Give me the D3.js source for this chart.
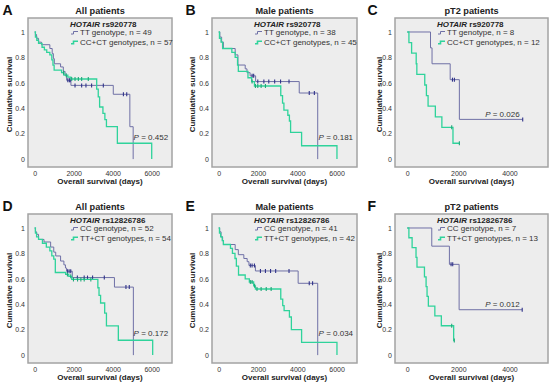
<!DOCTYPE html>
<html><head><meta charset="utf-8">
<script src="https://cdn.jsdelivr.net/npm/d3@7"></script>
<style>body{margin:0;background:#fff}svg{display:block}</style>
</head><body><svg id="c" width="550" height="385"></svg>
<script>
// ---------------- DATA ----------------
const panelLetters = ["A", "B", "C", "D", "E", "F"];
const panelTitles = ["All patients", "Male patients", "pT2 patients", "All patients", "Male patients", "pT2 patients"];
const snpNames = ["rs920778", "rs920778", "rs920778", "rs12826786", "rs12826786", "rs12826786"];
const refLabels = ["TT genotype, n = 49", "TT genotype, n = 38", "TT genotype, n = 8",
                   "CC genotype, n = 52", "CC genotype, n = 41", "CC genotype, n = 7"];
const altLabels = ["CC+CT genotypes, n = 57", "CC+CT genotypes, n = 45", "CC+CT genotypes, n = 12",
                   "TT+CT genotypes, n = 54", "TT+CT genotypes, n = 42", "TT+CT genotypes, n = 13"];
const pValues = ["0.452", "0.181", "0.026", "0.172", "0.034", "0.012"];
const xTicksLong = [0, 2000, 4000, 6000];
const xTicksShort = [0, 2000, 4000];
const yTicks = [0, 0.2, 0.4, 0.6, 0.8, 1];

// Kaplan-Meier steps [days, survival] and censor times (days)
const stepsA_ref = [[0,1],[40,0.98],[100,0.95],[200,0.92],[350,0.90],[780,0.87],[900,0.83],[960,0.79],[1010,0.75],[1330,0.725],[1470,0.69],[1560,0.66],[1640,0.62],[1860,0.58],[4030,0.51],[4880,0.255],[5050,0]];
const censorA_ref = [1700,1780,1820,2070,2410,2630,2920,3520,4550,4720];
const stepsA_alt = [[0,1],[40,0.96],[110,0.935],[200,0.91],[380,0.88],[500,0.86],[620,0.84],[780,0.82],[880,0.78],[940,0.74],[1000,0.70],[1380,0.68],[1500,0.66],[1700,0.645],[1860,0.63],[3180,0.55],[3260,0.49],[3330,0.41],[3500,0.36],[3600,0.31],[3680,0.255],[4240,0.125],[6000,0]];
const censorA_alt = [1480,1620,1900,2070,2240,2410,2750];

const stepsB_ref = [[0,1],[60,0.96],[150,0.92],[240,0.87],[840,0.82],[980,0.74],[1350,0.71],[1440,0.68],[1600,0.655],[1880,0.61],[4100,0.52],[5040,0]];
const censorB_ref = [1700,1780,1990,2300,2550,2850,3150,3580,4610,4870];
const stepsB_alt = [[0,1],[40,0.95],[120,0.92],[200,0.87],[670,0.84],[840,0.80],[960,0.74],[1000,0.69],[1490,0.64],[1680,0.61],[1820,0.575],[3160,0.50],[3250,0.44],[3320,0.385],[3520,0.345],[3600,0.30],[3660,0.21],[4220,0.105],[6020,0]];
const censorB_alt = [1700,1870,1990,2160,2380];

const stepsC_ref = [[0,1],[910,0.875],[970,0.75],[1680,0.625],[2040,0.3125]];
const censorC_ref = [1770,1845,4520];
const stepsC_alt = [[0,1],[65,0.917],[170,0.833],[350,0.75],[375,0.667],[685,0.583],[750,0.5],[815,0.417],[1100,0.333],[1355,0.25],[1790,0.125]];
const censorC_alt = [1740,2040];

const stepsD_ref = [[0,1],[40,0.97],[100,0.95],[200,0.91],[480,0.89],[820,0.85],[980,0.81],[1080,0.78],[1330,0.74],[1500,0.71],[1580,0.685],[1640,0.66],[1930,0.61],[4090,0.535],[5060,0]];
const censorD_ref = [1680,1765,1850,2190,2540,2710,2970,3570,4680,4850];
const stepsD_alt = [[0,1],[40,0.96],[100,0.93],[200,0.91],[400,0.88],[600,0.85],[780,0.82],[880,0.78],[980,0.755],[1060,0.65],[1590,0.635],[1750,0.62],[1900,0.595],[3240,0.53],[3300,0.47],[3380,0.41],[3590,0.33],[3680,0.23],[4290,0.117],[6050,0]];
const censorD_alt = [1680,1850,1990,2200,2370,2540,2880];

const stepsE_ref = [[0,1],[50,0.97],[120,0.93],[200,0.90],[240,0.87],[840,0.83],[1000,0.79],[1280,0.76],[1450,0.735],[1540,0.705],[1870,0.662],[4045,0.565],[5040,0]];
const censorE_ref = [1610,1700,1820,2125,2380,2640,2900,3580,4610,4780];
const stepsE_alt = [[0,1],[40,0.96],[100,0.93],[180,0.90],[240,0.87],[600,0.84],[700,0.80],[830,0.76],[900,0.70],[1010,0.63],[1350,0.60],[1560,0.575],[1780,0.545],[1870,0.52],[3160,0.44],[3260,0.39],[3330,0.35],[3600,0.30],[3700,0.20],[4220,0.10],[6020,0]];
const censorE_alt = [1610,1700,1830,1950,2160,2420,2670];

const stepsF_ref = [[0,1],[960,0.857],[1650,0.714],[2030,0.357]];
const censorF_ref = [1715,1780,4500];
const stepsF_alt = [[0,1],[64,0.923],[190,0.846],[343,0.769],[381,0.692],[673,0.615],[737,0.538],[775,0.462],[826,0.385],[1080,0.308],[1334,0.231],[1816,0.115]];
const censorF_alt = [1740,1842];

const panelCurves = [
  [stepsA_ref, censorA_ref, stepsA_alt, censorA_alt],
  [stepsB_ref, censorB_ref, stepsB_alt, censorB_alt],
  [stepsC_ref, censorC_ref, stepsC_alt, censorC_alt],
  [stepsD_ref, censorD_ref, stepsD_alt, censorD_alt],
  [stepsE_ref, censorE_ref, stepsE_alt, censorE_alt],
  [stepsF_ref, censorF_ref, stepsF_alt, censorF_alt]
];
// P-value annotation anchor [days, survival]
const pAnchors = [[6840,0.15],[6840,0.15],[4400,0.332],[6840,0.15],[6840,0.15],[4400,0.382]];

// ---------------- LAYOUT ----------------
const colLeft = [0, 183, 365];
const frameL = [28, 212, 395];
const frameR = [172, 357, 548];
const frameT = [18, 214];
const frameB = [167, 363];
const yTitleOff = [-19, -20, -16];
const C_REF = "#6f70a6", C_REF_MARK = "#30338a";
const C_ALT = "#2fd39b", C_ALT_MARK = "#1ea878";
const FONT = "'Liberation Sans', Arial, Helvetica, sans-serif";

const svg = d3.select("#c").style("font-family", FONT);

function stepAt(steps, t) {
  let s = steps[0][1];
  for (const p of steps) { if (p[0] <= t) s = p[1]; }
  return s;
}

panelLetters.forEach((letter, i) => {
  const col = i % 3, row = Math.floor(i / 3);
  const shortAxis = col === 2;
  const x = d3.scaleLinear().domain(shortAxis ? [-480, 5510] : [-340, 7040]).range([frameL[col], frameR[col]]);
  const y = d3.scaleLinear().domain([-0.062, 1.11]).range([frameB[row], frameT[row]]);
  const g = svg.append("g");
  const L = frameL[col], R = frameR[col], T = frameT[row], B = frameB[row];

  g.append("rect").attr("x", L).attr("y", T).attr("width", R - L).attr("height", B - T)
    .attr("fill", "#ededed").attr("stroke", "#a3a3a3").attr("stroke-width", 1.5);

  // panel letter & title
  g.append("text").attr("x", colLeft[col] + 2.5).attr("y", T - 3.5).text(letter)
    .attr("font-size", 14).attr("font-weight", "bold").attr("fill", "#111");
  g.append("text").attr("x", (L + R) / 2).attr("y", T - 4.5).attr("text-anchor", "middle")
    .text(panelTitles[i]).attr("font-size", 9.2).attr("font-weight", "bold").attr("fill", "#222");

  // axes
  const xAxis = d3.axisBottom(x).tickValues(shortAxis ? xTicksShort : xTicksLong).tickSize(0).tickPadding(0).tickFormat(d3.format("d"));
  const gx = g.append("g").attr("transform", `translate(0,${B + 7})`).call(xAxis);
  gx.select(".domain").remove();
  gx.selectAll("text").attr("font-size", 7).attr("fill", "#333").attr("font-family", FONT).attr("dy", "0.3em");
  const yAxis = d3.axisLeft(y).tickValues(yTicks).tickSize(0).tickPadding(0).tickFormat(d => d === 0 || d === 1 ? String(d) : d.toFixed(1));
  const gy = g.append("g").attr("transform", `translate(${L - 3},0)`).call(yAxis);
  gy.select(".domain").remove();
  gy.selectAll("text").attr("font-size", 7).attr("fill", "#333").attr("font-family", FONT);

  g.append("text").attr("x", (L + R) / 2).attr("y", B + 17).attr("text-anchor", "middle")
    .text("Overall survival (days)").attr("font-size", 8).attr("font-weight", "bold").attr("fill", "#222");
  g.append("text").attr("transform", `translate(${L + yTitleOff[col]},${(T + B) / 2 + 2}) rotate(-90)`)
    .attr("text-anchor", "middle").attr("dy", "0.35em")
    .text("Cumulative survival").attr("font-size", 8).attr("font-weight", "bold").attr("fill", "#222");

  // curves
  const [sRef, cRef, sAlt, cAlt] = panelCurves[i];
  const line = d3.line().x(d => x(d[0])).y(d => y(d[1])).curve(d3.curveStepAfter);
  function drawCurve(steps, censors, color, markColor, width) {
    const pts = steps.slice();
    const lastT = d3.max(censors.concat([steps[steps.length - 1][0]]));
    const last = pts[pts.length - 1];
    if (lastT > last[0]) pts.push([lastT, last[1]]);
    g.append("path").attr("d", line(pts)).attr("fill", "none").attr("stroke", color)
      .attr("stroke-width", width);
    censors.forEach(t => {
      const cx = x(t), cy = y(stepAt(steps, t));
      g.append("line").attr("x1", cx).attr("x2", cx).attr("y1", cy - 2).attr("y2", cy + 2)
        .attr("stroke", markColor).attr("stroke-width", 1.1);
    });
  }
  drawCurve(sRef, cRef, C_REF, C_REF_MARK, 1);
  drawCurve(sAlt, cAlt, C_ALT, C_ALT_MARK, 1.3);

  // legend
  const lx = L + 42;
  const lt = g.append("text").attr("x", lx).attr("y", T + 8.5).attr("font-size", 8).attr("font-weight", "bold").attr("fill", "#222");
  lt.append("tspan").attr("font-style", "italic").text("HOTAIR");
  lt.append("tspan").text(" " + snpNames[i]);
  [[refLabels[i], C_REF, 1], [altLabels[i], C_ALT, 1.6]].forEach((it, k) => {
    const yy = T + 17 + k * 9.8;
    g.append("path").attr("d", `M${lx + 1},${yy - 1} h2.5 v-2.5 h4.5`).attr("fill", "none")
      .attr("stroke", it[1]).attr("stroke-width", it[2]);
    g.append("text").attr("x", lx + 10).attr("y", yy).text(it[0]).attr("font-size", 8).attr("fill", "#333");
  });

  // p value
  const pt = g.append("text").attr("x", x(pAnchors[i][0])).attr("y", y(pAnchors[i][1]))
    .attr("text-anchor", "end").attr("font-size", 8).attr("fill", "#333");
  pt.append("tspan").attr("font-style", "italic").text("P");
  pt.append("tspan").text(" = " + pValues[i]);
});
</script>
</body></html>
